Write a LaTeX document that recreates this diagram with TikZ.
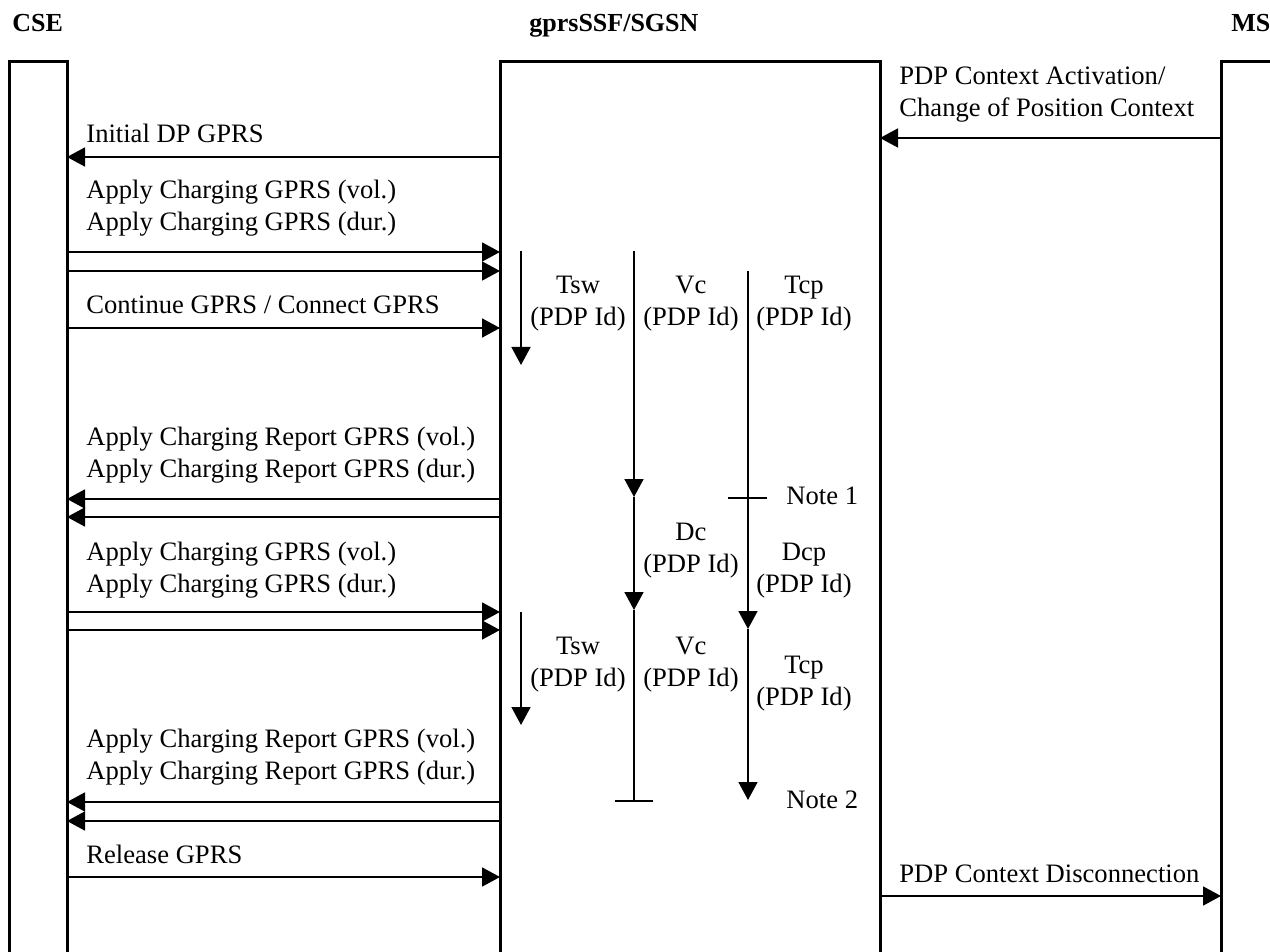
\documentclass[tikz,border=0pt]{standalone}
\usepackage{fontspec}
\setmainfont{Liberation Serif}
\usetikzlibrary{arrows.meta}
\tikzset{
    lifeline/.style={draw, line width=1.5pt, inner sep=0pt, outer sep=0pt, minimum height=460pt, anchor=north west},
    msg/.style={line width=0.85pt, -{Triangle[length=9pt, width=9.5pt]}},
    timer/.style={line width=0.85pt},
    lbl/.style={inner sep=0pt, font=\fontsize{13.3}{16}\selectfont},
    ttl/.style={inner sep=0pt, font=\fontsize{13}{16}\selectfont\bfseries, anchor=base west}
}
\begin{document}
\begin{tikzpicture}[x=0.5pt, y=-0.5pt]
    \useasboundingbox (0,0) rectangle (1270,952);
    \clip (0,0) rectangle (1270,952);
    \node[ttl] (tcse) at (12,32) {CSE};
    \node[ttl] (tsgsn) at (529,32) {gprsSSF/SGSN};
    \node[ttl] (tms) at (1231,32) {MS};
    \node[lifeline, minimum width=29pt] (cse) at (9,62) {};
    \node[lifeline, minimum width=190pt] (sgsn) at (500,62) {};
    \node[lifeline, minimum width=30pt] (ms) at (1221,62) {};

    \draw[msg] (ms.west |- 0,138) -- (sgsn.east |- 0,138);
    \node[lbl, anchor=base west, align=left] (act) at (899,117) {PDP Context Activation/\\Change of Position Context};
    \draw[msg] (sgsn.west |- 0,157) -- (cse.east |- 0,157);
    \node[lbl, anchor=base west] (idp) at (86,143) {Initial DP GPRS};
    \draw[msg] (cse.east |- 0,252) -- (sgsn.west |- 0,252);
    \draw[msg] (cse.east |- 0,271) -- (sgsn.west |- 0,271);
    \node[lbl, anchor=base west, align=left] (ach1) at (86,231) {Apply Charging GPRS (vol.)\\Apply Charging GPRS (dur.)};
    \draw[msg] (cse.east |- 0,328) -- (sgsn.west |- 0,328);
    \node[lbl, anchor=base west] (cue) at (86,314) {Continue GPRS / Connect GPRS};
    \draw[msg] (sgsn.west |- 0,499) -- (cse.east |- 0,499);
    \draw[msg] (sgsn.west |- 0,517) -- (cse.east |- 0,517);
    \node[lbl, anchor=base west, align=left] (acr1) at (86,477) {Apply Charging Report GPRS (vol.)\\Apply Charging Report GPRS (dur.)};
    \draw[msg] (cse.east |- 0,612) -- (sgsn.west |- 0,612);
    \draw[msg] (cse.east |- 0,630) -- (sgsn.west |- 0,630);
    \node[lbl, anchor=base west, align=left] (ach2) at (86,592) {Apply Charging GPRS (vol.)\\Apply Charging GPRS (dur.)};
    \draw[msg] (sgsn.west |- 0,802) -- (cse.east |- 0,802);
    \draw[msg] (sgsn.west |- 0,821) -- (cse.east |- 0,821);
    \node[lbl, anchor=base west, align=left] (acr2) at (86,779) {Apply Charging Report GPRS (vol.)\\Apply Charging Report GPRS (dur.)};
    \draw[msg] (cse.east |- 0,877) -- (sgsn.west |- 0,877);
    \node[lbl, anchor=base west] (rel) at (86,863) {Release GPRS};
    \draw[msg] (sgsn.east |- 0,896) -- (ms.west |- 0,896);
    \node[lbl, anchor=base west] (disc) at (899,882) {PDP Context Disconnection};

    \draw[msg] (521,251) -- (521,365);
    \draw[msg] (634,251) -- (634,497);
    \draw[timer] (748,271) -- (748,498) (728,498) -- (767,498);
    \draw[msg] (634,497) -- (634,610);
    \draw[msg] (748,498) -- (748,629);
    \draw[msg] (521,612) -- (521,725);
    \draw[timer] (634,610) -- (634,801) (615,801) -- (653,801);
    \draw[msg] (748,629) -- (748,800);
    \node[lbl, anchor=base, align=center] (tsw1) at (578,326) {Tsw\\(PDP Id)};
    \node[lbl, anchor=base, align=center] (vc1) at (691,326) {Vc\\(PDP Id)};
    \node[lbl, anchor=base, align=center] (tcp1) at (804,326) {Tcp\\(PDP Id)};
    \node[lbl, anchor=base, align=center] (dc) at (691,572) {Dc\\(PDP Id)};
    \node[lbl, anchor=base, align=center] (dcp) at (804,592) {Dcp\\(PDP Id)};
    \node[lbl, anchor=base, align=center] (tsw2) at (578,686) {Tsw\\(PDP Id)};
    \node[lbl, anchor=base, align=center] (vc2) at (691,686) {Vc\\(PDP Id)};
    \node[lbl, anchor=base, align=center] (tcp2) at (804,705) {Tcp\\(PDP Id)};
    \node[lbl, anchor=base west] (note1) at (786,504) {Note 1};
    \node[lbl, anchor=base west] (note2) at (786,808) {Note 2};
\end{tikzpicture}
\end{document}
